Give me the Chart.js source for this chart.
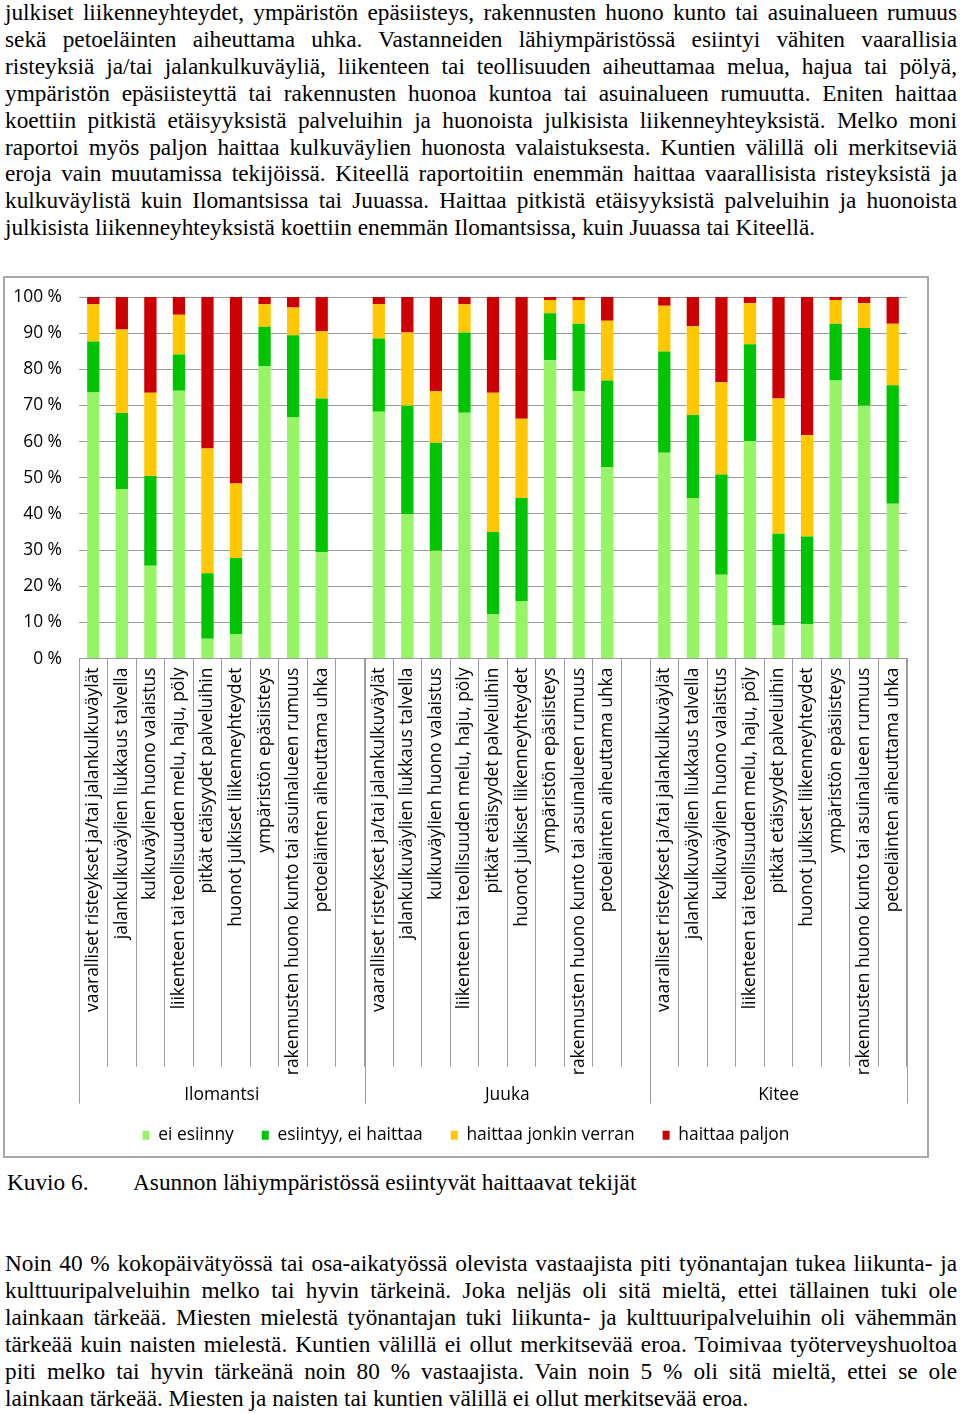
<!DOCTYPE html>
<html>
<head>
<meta charset="utf-8">
<script src="https://cdn.jsdelivr.net/npm/chart.js@4.4.1/dist/chart.umd.min.js"></script>
<style>
html, body { margin: 0; padding: 0; background: #fff; }
body { width: 960px; height: 1414px; position: relative; overflow: hidden;
       font-family: "Liberation Serif", "Times New Roman", serif; color: #000; }
.para { position: absolute; left: 5px; width: 952px; font-size: 23.3px; line-height: 26.9px; }
.para div { text-align: justify; text-align-last: justify; white-space: nowrap; }
.para div.last { text-align-last: left; }
#top { top: -1px; }
#bottom { top: 1250px; }
#caption { position: absolute; top: 1169px; left: 7px; font-size: 23.3px; line-height: 27px; white-space: nowrap; }
#caption span { position: absolute; left: 126px; }
#box { position: absolute; left: 3px; top: 276px; width: 922px; height: 878px; border: 2px solid #a8a8a8; }
#box canvas { display: block; }
</style>
</head>
<body>
<div id="top" class="para">
  <div>julkiset liikenneyhteydet, ympäristön epäsiisteys, rakennusten huono kunto tai asuinalueen rumuus</div>
  <div>sekä petoeläinten aiheuttama uhka. Vastanneiden lähiympäristössä esiintyi vähiten vaarallisia</div>
  <div>risteyksiä ja/tai jalankulkuväyliä, liikenteen tai teollisuuden aiheuttamaa melua, hajua tai pölyä,</div>
  <div>ympäristön epäsiisteyttä tai rakennusten huonoa kuntoa tai asuinalueen rumuutta. Eniten haittaa</div>
  <div>koettiin pitkistä etäisyyksistä palveluihin ja huonoista julkisista liikenneyhteyksistä. Melko moni</div>
  <div>raportoi myös paljon haittaa kulkuväylien huonosta valaistuksesta. Kuntien välillä oli merkitseviä</div>
  <div>eroja vain muutamissa tekijöissä. Kiteellä raportoitiin enemmän haittaa vaarallisista risteyksistä ja</div>
  <div>kulkuväylistä kuin Ilomantsissa tai Juuassa. Haittaa pitkistä etäisyyksistä palveluihin ja huonoista</div>
  <div class="last">julkisista liikenneyhteyksistä koettiin enemmän Ilomantsissa, kuin Juuassa tai Kiteellä.</div>
</div>

<div id="box"><canvas id="chart" width="922" height="878"></canvas></div>

<div id="caption">Kuvio 6.<span>Asunnon lähiympäristössä esiintyvät haittaavat tekijät</span></div>

<div id="bottom" class="para">
  <div>Noin 40 % kokopäivätyössä tai osa-aikatyössä olevista vastaajista piti työnantajan tukea liikunta- ja</div>
  <div>kulttuuripalveluihin melko tai hyvin tärkeinä. Joka neljäs oli sitä mieltä, ettei tällainen tuki ole</div>
  <div>lainkaan tärkeää. Miesten mielestä työnantajan tuki liikunta- ja kulttuuripalveluihin oli vähemmän</div>
  <div>tärkeää kuin naisten mielestä. Kuntien välillä ei ollut merkitsevää eroa. Toimivaa työterveyshuoltoa</div>
  <div>piti melko tai hyvin tärkeänä noin 80 % vastaajista. Vain noin 5 % oli sitä mieltä, ettei se ole</div>
  <div class="last">lainkaan tärkeää. Miesten ja naisten tai kuntien välillä ei ollut merkitsevää eroa.</div>
</div>

<script>
'use strict';
// ---------- data (percent) ----------
const factors = [
    'vaaralliset risteykset ja/tai jalankulkuväylät',
    'jalankulkuväylien liukkaus talvella',
    'kulkuväylien huono valaistus',
    'liikenteen tai teollisuuden melu, haju, pöly',
    'pitkät etäisyydet palveluihin',
    'huonot julkiset liikenneyhteydet',
    'ympäristön epäsiisteys',
    'rakennusten huono kunto tai asuinalueen rumuus',
    'petoeläinten aiheuttama uhka',
];
const towns = ['Ilomantsi', 'Juuka', 'Kitee'];
const townSlots = [10, 10, 9];   // 9 factors + an empty gap slot after the first two towns

// each town: 9 values, null marks the empty gap slot
const eiEsiinny = [
    73.6, 46.8, 25.7, 74.1, 5.5, 6.8, 80.9, 66.8, 29.4, null,
    68.3, 39.9, 29.8, 68.0, 12.3, 15.9, 82.5, 74.0, 52.9, null,
    56.9, 44.4, 23.2, 60.2, 9.2, 9.5, 76.9, 69.9, 42.8,
];
const esiintyyEiHaittaa = [
    14.1, 21.1, 24.8, 10.0, 18.1, 21.0, 10.9, 22.6, 42.5, null,
    20.2, 30.0, 29.9, 22.2, 22.7, 28.5, 13.0, 18.6, 24.0, null,
    28.0, 23.0, 27.7, 26.7, 25.3, 24.3, 15.7, 21.5, 32.8,
];
const haittaaJonkin = [
    10.3, 23.1, 23.0, 11.0, 34.5, 20.6, 6.2, 7.7, 18.7, null,
    9.5, 20.3, 14.3, 7.8, 38.5, 21.9, 3.7, 6.6, 16.5, null,
    12.7, 24.5, 25.5, 11.4, 37.4, 28.0, 6.6, 6.9, 17.0,
];
const haittaaPaljon = [
    2.0, 9.0, 26.5, 4.9, 41.9, 51.6, 2.0, 2.9, 9.4, null,
    2.0, 9.8, 26.0, 2.0, 26.5, 33.7, 0.8, 0.8, 6.6, null,
    2.4, 8.1, 23.6, 1.7, 28.1, 38.2, 0.8, 1.7, 7.4,
];
const yTicks = [0, 10, 20, 30, 40, 50, 60, 70, 80, 90, 100];

// category labels: the factor list repeated per town, blank in the gap slots
const labels = [...factors, '', ...factors, '', ...factors];

const GRID = '#9c9c9c';
const LABEL_FONT = { family: '"Open Sans", Lato, sans-serif', size: 17.4 };

// Town names under the rotated labels, plus the long separators between towns
const townLabels = {
    id: 'townLabels',
    afterDraw(chart) {
        const x = chart.scales.x;
        const ctx = chart.ctx;
        const half = (x.getPixelForValue(1) - x.getPixelForValue(0)) / 2;
        const lineEnd = x.top + 445;
        ctx.save();
        ctx.strokeStyle = GRID;
        ctx.lineWidth = 1;
        ctx.fillStyle = '#000';
        ctx.font = `${LABEL_FONT.size}px ${LABEL_FONT.family}`;
        ctx.textAlign = 'center';
        ctx.textBaseline = 'middle';
        let start = 0;
        const edges = [x.getPixelForValue(0) - half];
        townSlots.forEach((n, i) => {
            const left = x.getPixelForValue(start) - half;
            const right = x.getPixelForValue(start + n - 1) + half;
            ctx.fillText(towns[i], (left + right) / 2, x.top + 436);
            edges.push(right);
            start += n;
        });
        edges.forEach(px => {
            const p = Math.round(px) + 0.5;
            ctx.beginPath();
            ctx.moveTo(p, x.top);
            ctx.lineTo(p, lineEnd);
            ctx.stroke();
        });
        ctx.restore();
    },
};

const bar = (label, data, color) => ({
    label, data,
    yAxisID: 'y',
    backgroundColor: color,
    borderWidth: 0,
    barPercentage: 0.43,
    categoryPercentage: 1,
});

new Chart(document.getElementById('chart'), {
    type: 'bar',
    data: {
        labels,
        datasets: [
            bar('ei esiinny', eiEsiinny, '#96f566'),
            bar('esiintyy, ei haittaa', esiintyyEiHaittaa, '#00c400'),
            bar('haittaa jonkin verran', haittaaJonkin, '#ffc800'),
            bar('haittaa paljon', haittaaPaljon, '#cc0000'),
        ],
    },
    options: {
        responsive: false,
        animation: false,
        devicePixelRatio: 1,
        layout: { padding: { left: 0, right: 0, top: 19, bottom: 2 } },
        plugins: {
            tooltip: { enabled: false },
            legend: {
                position: 'bottom',
                labels: {
                    boxWidth: 7,
                    boxHeight: 9,
                    padding: 28,
                    color: '#000',
                    font: LABEL_FONT,
                },
            },
        },
        scales: {
            x: {
                stacked: true,
                offset: true,
                border: { color: GRID },
                grid: {
                    offset: true,
                    drawOnChartArea: false,
                    color: GRID,
                    tickLength: 408,
                },
                ticks: {
                    autoSkip: false,
                    minRotation: 90,
                    maxRotation: 90,
                    padding: -399,
                    color: '#000',
                    font: LABEL_FONT,
                },
                afterFit(scale) { scale.height = 440; },
            },
            y: {
                stacked: true,
                min: 0,
                max: 100,
                border: { display: false },
                // invisible tick marks keep the labels 17px off the plot
                grid: { color: GRID, tickLength: 17, tickColor: 'rgba(0,0,0,0)' },
                afterBuildTicks(scale) { scale.ticks = yTicks.map(v => ({ value: v })); },
                ticks: {
                    padding: 0,
                    color: '#000',
                    font: LABEL_FONT,
                    callback: v => v + ' %',
                },
                afterFit(scale) { scale.width = 74; },
            },
            // empty right-hand axis, only reserves the margin right of the plot
            y2: {
                position: 'right',
                min: 0,
                max: 100,
                border: { display: false },
                grid: { display: false },
                ticks: { display: false },
                afterFit(scale) { scale.width = 20; },
            },
        },
    },
    plugins: [townLabels],
});
</script>
</body>
</html>
